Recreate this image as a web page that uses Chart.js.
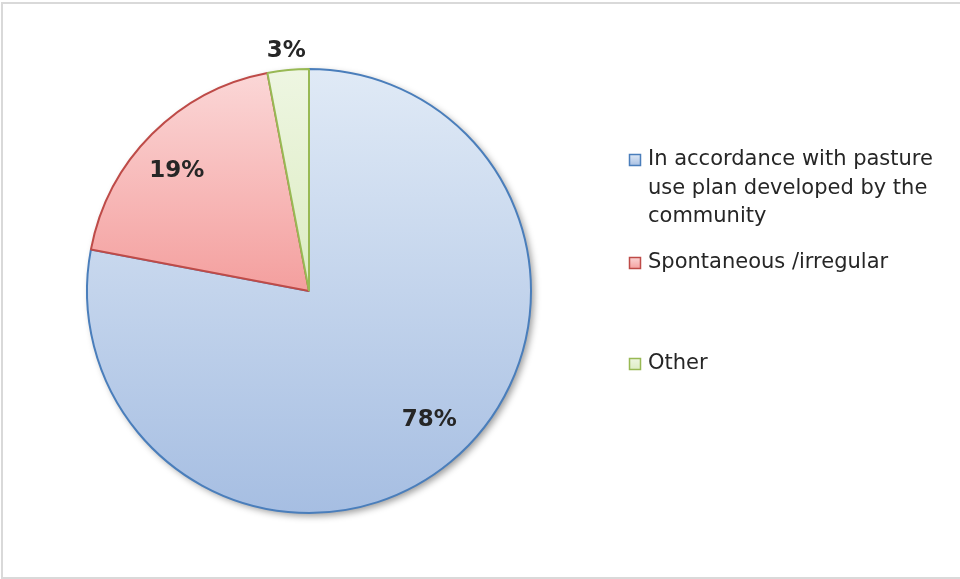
<!DOCTYPE html>
<html>
<head>
<meta charset="utf-8">
<script src="https://cdn.jsdelivr.net/npm/chart.js@4.4.1/dist/chart.umd.min.js"></script>
<style>
  html, body { margin: 0; padding: 0; background: #fff; }
  #wrap { position: relative; width: 960px; height: 579px; }
  #frame {
    position: absolute; left: 1px; top: 2px; width: 962px; height: 573px;
    border-top: 2px solid #d9d9d9; border-left: 2px solid #d9d9d9; border-bottom: 2px solid #d9d9d9;
    pointer-events: none;
  }
</style>
</head>
<body>
<div id="wrap">
  <canvas id="pie" width="960" height="579"></canvas>
  <div id="frame"></div>
</div>
<script>
const categories = [
  ['In accordance with pasture', 'use plan developed by the', 'community'],
  ['Spontaneous /irregular'],
  ['Other']
];
const shares = [78, 19, 3];
const pctLabels = ['78%', '19%', '3%'];

// gradient stops per slice (top, bottom) and outline colours
const fillTop = ['#e0eaf6', '#fbd7d7', '#eef6e2'];
const fillBottom = ['#a6bee2', '#f49f9e', '#dcecc2'];
const strokes = ['#4a7ebb', '#be4b48', '#98b954'];

// label placement: fraction of outer radius, and angle nudge in degrees
const labelRadius = [0.796, 0.806, 1.085];
const labelNudge = [-3.3, -2.7, 0];
// legend rows: y of first line for each entry
const legendRowY = [160, 263, 364];

const FONT = '"DejaVu Sans", Verdana, sans-serif';

function sliceFill(context) {
  const i = context.dataIndex;
  const ca = context.chart.chartArea;
  if (!ca) return fillTop[i];
  const cx = (ca.left + ca.right) / 2;
  const cy = (ca.top + ca.bottom) / 2;
  const r = Math.min(ca.right - ca.left, ca.bottom - ca.top) / 2;
  const total = shares.reduce((a, b) => a + b, 0);
  const before = shares.slice(0, i).reduce((a, b) => a + b, 0);
  const a0 = -Math.PI / 2 + 2 * Math.PI * before / total;
  const a1 = a0 + 2 * Math.PI * shares[i] / total;
  // vertical extent of the slice
  let top = cy, bottom = cy;
  for (let s = 0; s <= 60; s++) {
    const py = cy + Math.sin(a0 + (a1 - a0) * s / 60) * r;
    top = Math.min(top, py);
    bottom = Math.max(bottom, py);
  }
  const g = context.chart.ctx.createLinearGradient(cx, top, cx, bottom);
  g.addColorStop(0, fillTop[i]);
  g.addColorStop(1, fillBottom[i]);
  return g;
}

const shadowPlugin = {
  id: 'pieShadow',
  beforeDatasetsDraw(chart) {
    const arc = chart.getDatasetMeta(0).data[0];
    if (!arc) return;
    const { x, y, outerRadius } = arc.getProps(['x', 'y', 'outerRadius'], true);
    const ctx = chart.ctx;
    ctx.save();
    ctx.shadowColor = 'rgba(0,0,0,0.4)';
    ctx.shadowBlur = 7;
    ctx.shadowOffsetX = 3;
    ctx.shadowOffsetY = 3;
    ctx.fillStyle = '#fff';
    ctx.beginPath();
    ctx.arc(x, y, outerRadius, 0, Math.PI * 2);
    ctx.fill();
    ctx.restore();
  }
};

const pctPlugin = {
  id: 'pctLabels',
  afterDatasetsDraw(chart) {
    const ctx = chart.ctx;
    ctx.save();
    ctx.font = 'bold 23px ' + FONT;
    ctx.fillStyle = '#262626';
    ctx.textAlign = 'center';
    ctx.textBaseline = 'middle';
    chart.getDatasetMeta(0).data.forEach((arc, i) => {
      const { x, y, startAngle, endAngle, outerRadius } = arc.getProps(['x', 'y', 'startAngle', 'endAngle', 'outerRadius'], true);
      const mid = (startAngle + endAngle) / 2 + labelNudge[i] * Math.PI / 180;
      const r = outerRadius * labelRadius[i];
      ctx.fillText(pctLabels[i], x + Math.cos(mid) * r, y + Math.sin(mid) * r);
    });
    ctx.restore();
  }
};

const legendPlugin = {
  id: 'sideLegend',
  afterDraw(chart) {
    const ctx = chart.ctx;
    const boxX = 629, textX = 648, box = 12, lineH = 28.5;
    ctx.save();
    ctx.font = '21px ' + FONT;
    ctx.textBaseline = 'middle';
    ctx.textAlign = 'left';
    categories.forEach((lines, i) => {
      const y0 = legendRowY[i];
      const g = ctx.createLinearGradient(0, y0 - box / 2, 0, y0 + box / 2);
      g.addColorStop(0, fillTop[i]);
      g.addColorStop(1, fillBottom[i]);
      ctx.fillStyle = g;
      ctx.fillRect(boxX, y0 - box / 2, box, box);
      ctx.strokeStyle = strokes[i];
      ctx.lineWidth = 1.5;
      ctx.strokeRect(boxX + 0.5, y0 - box / 2 + 0.5, box - 1, box - 1);
      ctx.fillStyle = '#262626';
      lines.forEach((t, k) => ctx.fillText(t, textX, y0 + k * lineH));
    });
    ctx.restore();
  }
};

new Chart(document.getElementById('pie'), {
  type: 'pie',
  data: {
    labels: categories.map(c => c.join(' ')),
    datasets: [{
      data: shares,
      backgroundColor: sliceFill,
      borderColor: strokes,
      borderWidth: 2,
      borderAlign: 'center'
    }]
  },
  options: {
    responsive: false,
    animation: false,
    layout: { padding: { left: 86, right: 428, top: 68, bottom: 65 } },
    plugins: {
      legend: { display: false },
      tooltip: { enabled: false }
    }
  },
  plugins: [shadowPlugin, pctPlugin, legendPlugin]
});
</script>
</body>
</html>
